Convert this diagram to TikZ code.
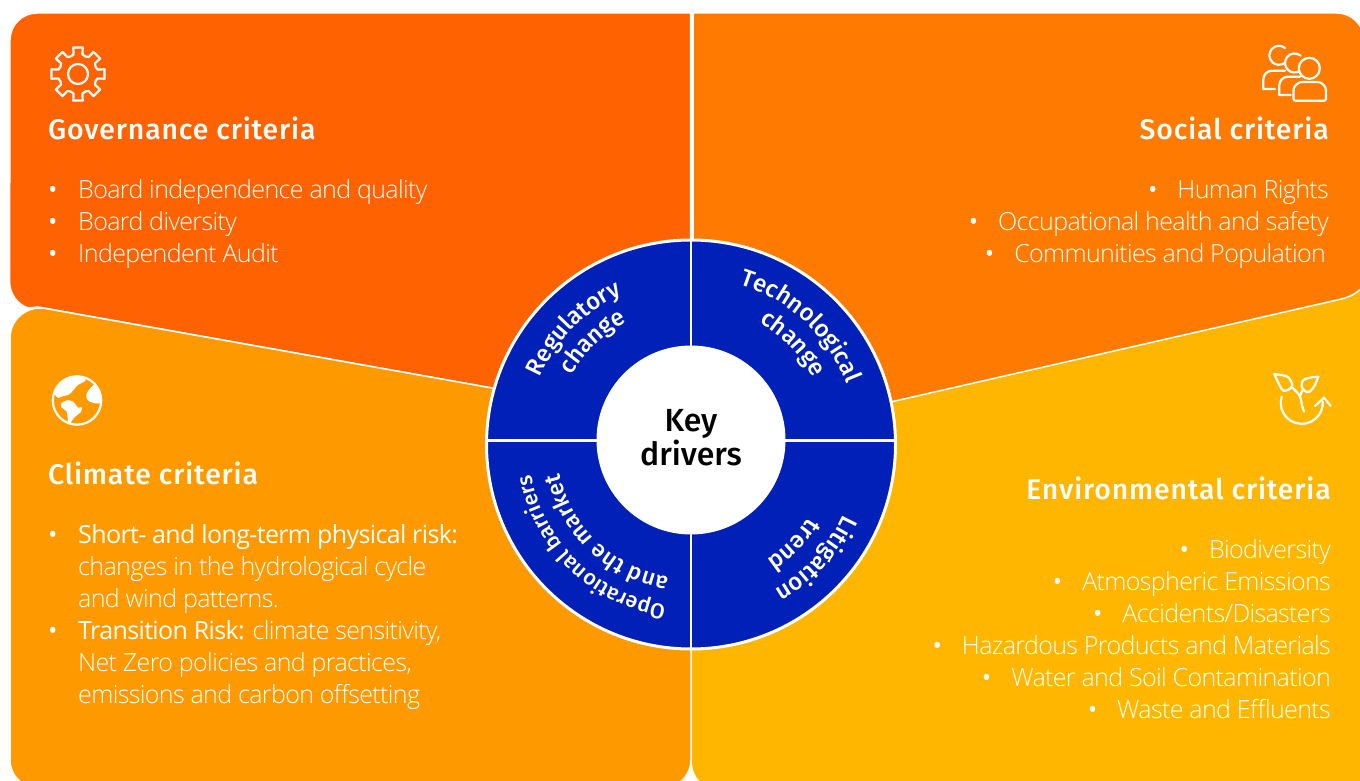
\documentclass[tikz,border=0pt]{standalone}
\usepackage{fontspec}
\usetikzlibrary{decorations.text}
\setmainfont[LetterSpace=-2.5]{Open Sans Light}
\newfontfamily\regfont[LetterSpace=-2.5]{Open Sans}
\newfontfamily\medfont[LetterSpace=3]{Fira Sans Medium}
\newfontfamily\wheelfont{Fira Sans Medium}
\definecolor{govorange}{HTML}{FF6200}
\definecolor{socorange}{HTML}{FF7A00}
\definecolor{climorange}{HTML}{FF9900}
\definecolor{envyellow}{HTML}{FFB600}
\definecolor{wheelblue}{HTML}{0020B8}

\begin{document}
\begin{tikzpicture}[
    x=1pt, y=-1pt,
    panel/.style={draw=white, line width=1.5pt},
    head/.style={font=\medfont\fontsize{28.4}{32}\selectfont, text=white, inner sep=0pt},
    itemL/.style={font=\fontsize{25}{32}\selectfont, text=white, inner sep=0pt, anchor=base west},
    itemR/.style={font=\fontsize{25}{32}\selectfont, text=white, inner sep=0pt, anchor=base east},
    icon/.style={draw=white, line width=2.2pt, line join=round, line cap=round},
    spoke/.style={draw=white, line width=2.4pt}
]
    \useasboundingbox (0,0) rectangle (1360,781);

    % Panels
    \fill[envyellow] (692,441) -- (895,400) -- (1366,280) -- (1366,790) -- (720,790)
        arc[start angle=90, end angle=180, radius=28] -- cycle;
    \draw[panel, fill=socorange] (693,13) -- (1337,13) arc[start angle=270, end angle=360, radius=27]
        -- (1364,286) .. controls (1354,296) and (1346,298) .. (1337,300) -- (895,401) -- (693,441) -- cycle;
    \draw[panel, fill=govorange] (10,40) arc[start angle=180, end angle=270, radius=27] -- (690.5,13)
        -- (690.5,441) -- (492,388) -- (38,307) -- (28,308) arc[start angle=110, end angle=180, radius=28] -- cycle;
    \draw[panel, fill=climorange] (10,338) arc[start angle=180, end angle=280, radius=30]
        -- (492,388) -- (691,441) -- (691,760) arc[start angle=0, end angle=90, radius=28]
        -- (38,788) arc[start angle=90, end angle=180, radius=28] -- cycle;

    % Wheel
    \node[circle, draw=white, line width=3pt, fill=wheelblue, minimum size=409pt, inner sep=0pt] (wheel) at (691,444.5) {};
    \coordinate (wtop) at (691,240);
    \coordinate (wbot) at (691,648);
    \coordinate (wleft) at (487,440.5);
    \coordinate (wright) at (895,440.5);
    \draw[spoke] (wtop) -- (wbot);
    \draw[spoke] (wleft) -- (wright);
    \node[circle, fill=white, minimum size=189pt, inner sep=0pt] (hub) at (691,440) {};
    \node[align=center, inner sep=0pt, font=\wheelfont\fontsize{32}{32}\selectfont] (hubtext) at (691,437.5) {Key\\drivers};

    % Curved labels
    \foreach \name/\ang/\rad/\sz/\txt in {reg1/224.5/165/24/Regulatory, reg2/226/138/24/change,
        tec1/-47/167/24/Technological, tec2/-44.5/139/24/change, lit1/42.5/168/24/Litigation, lit2/44.5/138/24/trend,
        ope1/134/163/21.5/Operational barriers, ope2/133.5/135/23/and the market} {
        \path[decorate, decoration={text along path, text align=center, raise=0pt,
            text={|\color{white}\wheelfont\fontsize{\sz}{24}\selectfont|\txt}}]
            (691,444) ++(\ang-70:\rad) arc[start angle=\ang-70, end angle=\ang+70, radius=\rad];
    }

    % Left lists
    \node[head, anchor=base west] (govhead) at (48,140) {Governance criteria};
    \foreach \i/\y/\txt in {1/198/Board independence and quality, 2/230/Board diversity, 3/262/Independent Audit} {
        \node[itemL] (govdot\i) at (48,\y) {\regfont •};
        \node[itemL] (gov\i) at (78,\y) {\txt};
    }
    \node[head, anchor=base west] (climhead) at (48,484) {Climate criteria};
    \node[itemL] (climdot1) at (48,543) {\regfont •};
    \node[itemL] (clim1) at (78,543) {{\regfont Short- and long-term physical risk:}};
    \node[itemL] (clim2) at (78,575) {changes in the hydrological cycle};
    \node[itemL] (clim3) at (78,607) {and wind patterns.};
    \node[itemL] (climdot2) at (48,639) {\regfont •};
    \node[itemL] (clim4) at (78,639) {{\regfont Transition Risk:} climate sensitivity,};
    \node[itemL] (clim5) at (78,671) {Net Zero policies and practices,};
    \node[itemL] (clim6) at (78,703) {emissions and carbon offsetting};

    % Right lists
    \node[head, anchor=base east] (sochead) at (1329,140) {Social criteria};
    \foreach \i/\x/\y/\txt in {1/1329/198/Human Rights, 2/1329/230/Occupational health and safety, 3/1326/262/Communities and Population} {
        \node[itemR] (soc\i) at (\x,\y) {{\regfont •}\hspace{20pt}\txt};
    }
    \node[head, anchor=base east] (envhead) at (1331,499) {Environmental criteria};
    \foreach \i/\y/\txt in {1/558/Biodiversity, 2/590/Atmospheric Emissions, 3/622/{Accidents/Disasters},
        4/654/Hazardous Products and Materials, 5/686/Water and Soil Contamination, 6/718/Waste and Effluents} {
        \node[itemR] (env\i) at (1331,\y) {{\regfont •}\hspace{20pt}\txt};
    }

    % Gear icon
    \begin{scope}[shift={(78,74)}]
        \draw[icon] (0,0) circle (10);
        \draw[icon] \foreach \a in {0,45,...,315} {
            (\a-22.5:19) -- (\a-13:20) -- (\a-10:27) -- (\a+10:27) -- (\a+13:20) -- (\a+22.5:19) } ;
    \end{scope}

    % People icon
    \begin{scope}[shift={(1220,0)}]
        \draw[icon] (65,48) arc[start angle=310, end angle=60, radius=9.5];
        \draw[icon] (80.6,55.7) arc[start angle=310, end angle=60, radius=9.5];
        \draw[icon] (89.3,68.3) circle (10.5);
        \draw[icon, rounded corners=2pt] (73.5,92) arc[start angle=180, end angle=270, radius=10] -- (96,82)
            arc[start angle=270, end angle=360, radius=10] -- (106,100.7) -- (73.5,100.7) -- cycle;
        \draw[icon] (65,70.7) -- (52,70.7) arc[start angle=270, end angle=180, radius=8.7] -- (43.3,89) -- (55,89);
        \draw[icon] (80,76.7) -- (68,76.7) arc[start angle=270, end angle=180, radius=8.7] -- (59.3,95) -- (70.7,95);
    \end{scope}

    % Plant icon
    \begin{scope}[shift={(1220,270)}]
        \draw[icon] (61.7,126.7) arc[start angle=197, end angle=-3, radius=21];
        \draw[icon] (95,136) -- (104,127.7) -- (110.7,136);
        \draw[icon] (84,141.7) .. controls (81,134) and (81,129) .. (80,126.7) .. controls (78,122) and (74,120) .. (71.7,116.7);
        \draw[icon] (80,126) .. controls (81,123) and (82,121) .. (83.3,119.3);
        \draw[icon] (54.3,104) .. controls (60,105) and (66,105) .. (69,108) .. controls (72,112) and (73,116) .. (71.7,116.7)
            .. controls (70,120) and (65,121) .. (63.3,120.7) .. controls (60,118) and (58,112) .. cycle;
        \draw[icon] (98.3,106.7) .. controls (92,107) and (86,108) .. (83.3,110) .. controls (81,113) and (81,118) .. (83.3,119.3)
            .. controls (85,122) and (88,123) .. (90,121.5) .. controls (94,118) and (96,113) .. cycle;
    \end{scope}

    % Globe icon
    \begin{scope}[shift={(77,400.5)}]
        \draw[icon] (0,0) circle (24.2);
        \fill[white] plot[smooth cycle, tension=0.5] coordinates {(-22,-8.7) (-19,-2.7) (-16,-3.7) (-8,-6) (-3.7,-10.3)
            (0.7,-15.3) (8.7,-20) (4.7,-23.5) (-8.7,-23.5)};
        \fill[white] plot[smooth cycle, tension=0.5] coordinates {(-16,3) (-10,-0.3) (-3.7,1.3) (1.3,7.3) (4.7,6.3)
            (4,11.3) (-2,16.3) (-7,23) (-8.7,23) (-10.3,11.3) (-15.3,7.3)};
        \fill[white] plot[smooth cycle, tension=0.5] coordinates {(9.7,-7) (13,-12) (18,-16) (22,-8.7) (24,1.3) (19.7,3)
            (13,1.3) (9.7,-2)};
    \end{scope}
\end{tikzpicture}
\end{document}
